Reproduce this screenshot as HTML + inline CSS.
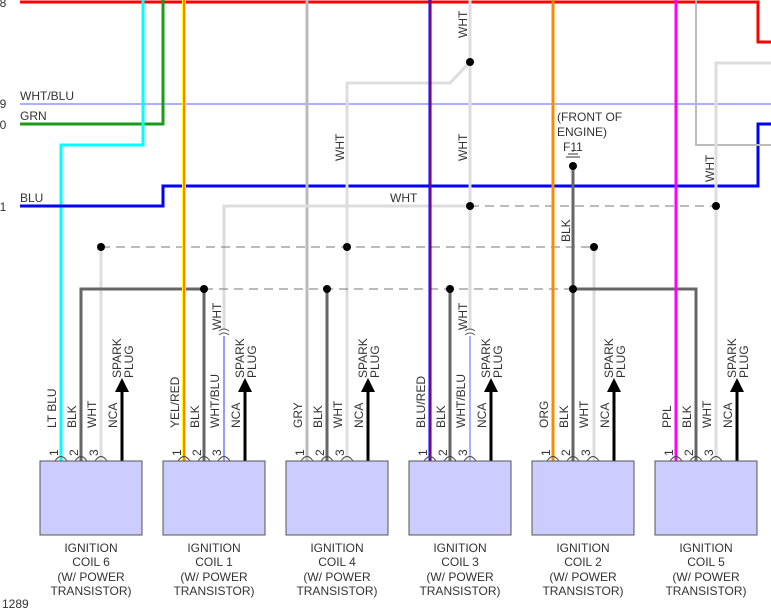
<!DOCTYPE html>
<html><head><style>html,body{margin:0;padding:0;background:#fff}svg{display:block}text{font-family:"Liberation Sans",Arial,sans-serif;font-size:12px;fill:#333}</style></head><body>
<svg width="771" height="610" viewBox="0 0 771 610" xmlns="http://www.w3.org/2000/svg">
<defs>
<g id="cb">
<path d="M15 461Q21 452 27 461M35 461Q41 452 47 461M55 461Q61 452 67 461" fill="none" stroke="#444"/>
<path d="M82 461V390" stroke="#000" stroke-width="3"/>
<path d="M75 392L82 378L89 392Z" fill="#000"/>
<rect x="0" y="461" width="102" height="74" fill="#ccf" stroke="#555"/>
</g>
</defs>
<g fill="none">
<path d="M20 2H758V42H771" stroke="#f00" stroke-width="3"/>
<path d="M20 104H771" stroke="#aab0ff" stroke-width="2"/>
<path d="M20 124H163V0" stroke="#1a9c1a" stroke-width="3"/>
<path d="M143 0V145H61V461" stroke="#0ff" stroke-width="3"/>
<path d="M20 206H163V186H758V124H771" stroke="#00f" stroke-width="3"/>
<path d="M307 0V461" stroke="#bbb" stroke-width="3"/>
<path d="M696 0V145H771" stroke="#bbb" stroke-width="2"/>
<path d="M771 63H716V461" stroke="#ddd" stroke-width="3"/>
<path d="M470 0V330" stroke="#ddd" stroke-width="3"/>
<path d="M470 62L450 83H347V461" stroke="#ddd" stroke-width="3"/>
<path d="M470 206H224V330" stroke="#ddd" stroke-width="3"/>
<path d="M101 247V461" stroke="#ddd" stroke-width="3"/>
<path d="M594 247V461" stroke="#ddd" stroke-width="3"/>
<path d="M224 336V461" stroke="#33f" stroke-width="1"/>
<path d="M470 336V461" stroke="#aab0ff" stroke-width="2"/>
<path d="M219 331Q224 327 229 331M219 335Q224 331 229 335M465 331Q470 327 475 331M465 335Q470 331 475 335" stroke="#555" stroke-width="1"/>
<path d="M101 247H594" stroke="#777" stroke-width="1" stroke-dasharray="9,6"/>
<path d="M204 289H573" stroke="#777" stroke-width="1" stroke-dasharray="9,6"/>
<path d="M470 206H716" stroke="#777" stroke-width="1" stroke-dasharray="9,6"/>
<path d="M81 461V289H204" stroke="#666" stroke-width="3"/>
<path d="M204 289V461M327 289V461M450 289V461" stroke="#666" stroke-width="3"/>
<path d="M573 166V461M573 289H696V461" stroke="#666" stroke-width="3"/>
<path d="M184 0V461" stroke="#ff0" stroke-width="4"/><path d="M184 0V461" stroke="#f00" stroke-width="1"/>
<path d="M553 0V461" stroke="#f80" stroke-width="3"/>
<path d="M430 0V461" stroke="#00f" stroke-width="3"/><path d="M430 0V461" stroke="#f00" stroke-width="1"/>
<path d="M676 0V461" stroke="#f0f" stroke-width="3"/>
<path d="M566 157H580M568 154H578M572 151H574" stroke="#333" stroke-width="1"/>
</g>
<g fill="#000">
<circle cx="470" cy="62" r="4"/><circle cx="470" cy="206" r="4"/><circle cx="716" cy="206" r="4"/>
<circle cx="101" cy="247" r="4"/><circle cx="347" cy="247" r="4"/><circle cx="594" cy="247" r="4"/>
<circle cx="204" cy="289" r="4"/><circle cx="327" cy="289" r="4"/><circle cx="450" cy="289" r="4"/><circle cx="573" cy="289" r="4"/>
<circle cx="573" cy="166" r="4"/>
</g>
<text x="-7" y="7">28</text><text x="-7" y="108">29</text><text x="-7" y="129">30</text><text x="-7" y="211">31</text>
<text x="20" y="100">WHT/BLU</text><text x="20" y="120">GRN</text><text x="20" y="202">BLU</text>
<text x="390" y="202">WHT</text>
<text x="557" y="121">(FRONT OF</text><text x="557" y="136">ENGINE)</text><text x="563" y="151">F11</text>
<text transform="translate(467,38) rotate(-90)">WHT</text>
<text transform="translate(344,161) rotate(-90)">WHT</text>
<text transform="translate(467,161) rotate(-90)">WHT</text>
<text transform="translate(714,182) rotate(-90)">WHT</text>
<text transform="translate(570,242) rotate(-90)">BLK</text>
<text transform="translate(221,330) rotate(-90)">WHT</text>
<text transform="translate(467,330) rotate(-90)">WHT</text>

<g transform="translate(40,0)"><use href="#cb"/>
<text transform="translate(18,456) rotate(-90)">1</text><text transform="translate(38,456) rotate(-90)">2</text><text transform="translate(58,456) rotate(-90)">3</text>
<text transform="translate(16,428) rotate(-90)">LT BLU</text><text transform="translate(36,428) rotate(-90)">BLK</text><text transform="translate(56,428) rotate(-90)">WHT</text><text transform="translate(77,428) rotate(-90)">NCA</text>
<text transform="translate(81,378) rotate(-90)">SPARK</text><text transform="translate(93,378) rotate(-90)">PLUG</text>
<text x="51" y="552" text-anchor="middle">IGNITION</text><text x="51" y="566" text-anchor="middle">COIL 6</text><text x="51" y="581" text-anchor="middle">(W/ POWER</text><text x="51" y="595" text-anchor="middle">TRANSISTOR)</text></g>

<g transform="translate(163,0)"><use href="#cb"/>
<text transform="translate(18,456) rotate(-90)">1</text><text transform="translate(38,456) rotate(-90)">2</text><text transform="translate(58,456) rotate(-90)">3</text>
<text transform="translate(16,428) rotate(-90)">YEL/RED</text><text transform="translate(36,428) rotate(-90)">BLK</text><text transform="translate(56,428) rotate(-90)">WHT/BLU</text><text transform="translate(77,428) rotate(-90)">NCA</text>
<text transform="translate(81,378) rotate(-90)">SPARK</text><text transform="translate(93,378) rotate(-90)">PLUG</text>
<text x="51" y="552" text-anchor="middle">IGNITION</text><text x="51" y="566" text-anchor="middle">COIL 1</text><text x="51" y="581" text-anchor="middle">(W/ POWER</text><text x="51" y="595" text-anchor="middle">TRANSISTOR)</text></g>

<g transform="translate(286,0)"><use href="#cb"/>
<text transform="translate(18,456) rotate(-90)">1</text><text transform="translate(38,456) rotate(-90)">2</text><text transform="translate(58,456) rotate(-90)">3</text>
<text transform="translate(16,428) rotate(-90)">GRY</text><text transform="translate(36,428) rotate(-90)">BLK</text><text transform="translate(56,428) rotate(-90)">WHT</text><text transform="translate(77,428) rotate(-90)">NCA</text>
<text transform="translate(81,378) rotate(-90)">SPARK</text><text transform="translate(93,378) rotate(-90)">PLUG</text>
<text x="51" y="552" text-anchor="middle">IGNITION</text><text x="51" y="566" text-anchor="middle">COIL 4</text><text x="51" y="581" text-anchor="middle">(W/ POWER</text><text x="51" y="595" text-anchor="middle">TRANSISTOR)</text></g>

<g transform="translate(409,0)"><use href="#cb"/>
<text transform="translate(18,456) rotate(-90)">1</text><text transform="translate(38,456) rotate(-90)">2</text><text transform="translate(58,456) rotate(-90)">3</text>
<text transform="translate(16,428) rotate(-90)">BLU/RED</text><text transform="translate(36,428) rotate(-90)">BLK</text><text transform="translate(56,428) rotate(-90)">WHT/BLU</text><text transform="translate(77,428) rotate(-90)">NCA</text>
<text transform="translate(81,378) rotate(-90)">SPARK</text><text transform="translate(93,378) rotate(-90)">PLUG</text>
<text x="51" y="552" text-anchor="middle">IGNITION</text><text x="51" y="566" text-anchor="middle">COIL 3</text><text x="51" y="581" text-anchor="middle">(W/ POWER</text><text x="51" y="595" text-anchor="middle">TRANSISTOR)</text></g>

<g transform="translate(532,0)"><use href="#cb"/>
<text transform="translate(18,456) rotate(-90)">1</text><text transform="translate(38,456) rotate(-90)">2</text><text transform="translate(58,456) rotate(-90)">3</text>
<text transform="translate(16,428) rotate(-90)">ORG</text><text transform="translate(36,428) rotate(-90)">BLK</text><text transform="translate(56,428) rotate(-90)">WHT</text><text transform="translate(77,428) rotate(-90)">NCA</text>
<text transform="translate(81,378) rotate(-90)">SPARK</text><text transform="translate(93,378) rotate(-90)">PLUG</text>
<text x="51" y="552" text-anchor="middle">IGNITION</text><text x="51" y="566" text-anchor="middle">COIL 2</text><text x="51" y="581" text-anchor="middle">(W/ POWER</text><text x="51" y="595" text-anchor="middle">TRANSISTOR)</text></g>

<g transform="translate(655,0)"><use href="#cb"/>
<text transform="translate(18,456) rotate(-90)">1</text><text transform="translate(38,456) rotate(-90)">2</text><text transform="translate(58,456) rotate(-90)">3</text>
<text transform="translate(16,428) rotate(-90)">PPL</text><text transform="translate(36,428) rotate(-90)">BLK</text><text transform="translate(56,428) rotate(-90)">WHT</text><text transform="translate(77,428) rotate(-90)">NCA</text>
<text transform="translate(81,378) rotate(-90)">SPARK</text><text transform="translate(93,378) rotate(-90)">PLUG</text>
<text x="51" y="552" text-anchor="middle">IGNITION</text><text x="51" y="566" text-anchor="middle">COIL 5</text><text x="51" y="581" text-anchor="middle">(W/ POWER</text><text x="51" y="595" text-anchor="middle">TRANSISTOR)</text></g>

<text x="2" y="608">1289</text>
</svg>
</body></html>
